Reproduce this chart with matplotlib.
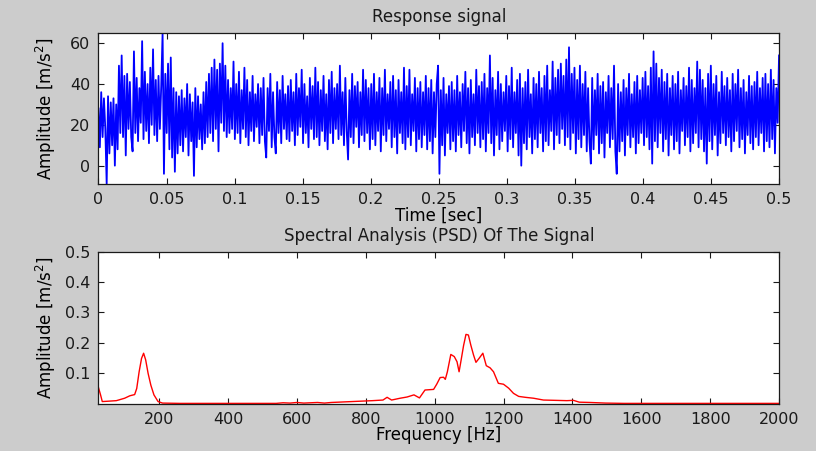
import numpy as np
import matplotlib.pyplot as plt

# acceleration response, 1 ms steps over 0.5 s (m/s^2)
response = [
    28, 9, 36, 14, 33, 18, -9, 34, 6, 31, 10, 33, 0, 30, 8, 49, 16, 54, 14, 44,
    5, 45, 18, 41, 14, 7, 56, 16, 43, 12, 38, 21, 61, 13, 46, 17, 40, 11, 48, 20,
    57, 15, 42, 12, 44, 18, 39, 65, -4, 45, 16, 50, 8, 53, 4, 38, -3, 36, 6, 34,
    10, 37, 7, 33, 14, 40, 5, 35, 12, 31, -5, 38, 9, 34, 13, 30, 8, 36, 11, 41,
    14, 45, 16, 48, 12, 52, 18, 47, 7, 50, 21, 60, 17, 49, 14, 42, 16, 38, 18, 51,
    13, 40, 16, 46, 11, 37, 18, 48, 14, 42, 10, 36, 17, 44, 12, 35, 19, 40, 11, 38,
    15, 43, 12, 4, 38, 17, 45, 9, 36, 14, 6, 41, 16, 37, 11, 44, 18, 35, 13, 39,
    12, 42, 17, 36, 10, 45, 15, 38, 19, 47, 11, 40, 16, 34, 9, 43, 18, 39, 13, 48,
    14, 41, 10, 37, 17, 44, 12, 35, 8, 42, 16, 46, 11, 38, 18, 40, 13, 49, 15, 36,
    10, 43, 17, 3, 37, 14, 45, 11, 39, 19, 41, 9, 36, 15, 47, 12, 42, 16, 38, 8,
    40, 13, 45, 10, 36, 17, 43, 7, 38, 15, 47, 12, 35, 18, 41, 9, 44, 14, 37, 6,
    42, 16, 36, 11, 48, 8, 39, 14, 47, 10, 35, 17, 43, 7, 38, 13, 41, 9, 36, 15,
    44, 8, 38, 12, 42, 6, 36, 14, 40, 49, -4, 37, 10, 43, 5, 35, 16, 39, 8, 41,
    12, 37, 7, 44, 15, 36, 9, 40, 17, 46, 11, 38, 6, 42, 14, 35, 10, 47, 16, 39,
    9, 41, 13, 45, 7, 38, 16, 54, 11, 43, 5, 37, 15, 46, 8, 40, 12, 36, 17, 44,
    7, 39, 13, 48, 9, 36, 16, 42, 5, 45, 0, 38, 11, 41, 8, 47, 14, 35, 6, 43,
    13, 40, 9, 46, 16, 38, 7, 44, 12, 49, 10, 37, 17, 51, 8, 43, 15, 47, 11, 50,
    18, 44, 10, 52, 14, 58, 8, 45, 16, 48, 6, 42, 13, 49, 9, 40, 15, 46, 7, 38,
    12, 1, 43, 8, 37, 15, 45, 6, 39, 11, 41, 4, 36, 16, 44, 9, 38, 13, 49, 7,
    -4, 40, 7, 36, 12, 42, 5, 38, 15, 45, 9, 35, 14, 41, 6, 44, 11, 37, 16, 43,
    10, 46, 14, 39, 8, 48, 1, 56, 12, 50, 9, 43, 16, 47, 7, 41, 13, 45, 5, 38,
    15, 44, 8, 40, 12, 46, 6, 37, 17, 43, 10, 39, 14, 48, 7, 42, 11, 38, 16, 51,
    9, 47, 13, 42, 7, 38, 1, 45, 12, 49, 8, 40, 15, 44, 5, 36, 11, 46, 16, 39,
    10, 43, 14, 37, 7, 45, 12, 40, 17, 47, 9, 38, 13, 42, 6, 36, 15, 44, 11, 39,
    8, 41, 14, 46, 10, 38, 16, 43, 7, 45, 12, 40, 9, 47, 13, 42, 6, 38, 21, 54,
]

# power spectral density of the response
freq = [24, 30, 35, 50, 76, 100, 115, 129, 135, 142,
        149, 155, 161, 168, 176, 185, 197, 210, 260, 350,
        450, 540, 560, 580, 600, 620, 640, 660, 680, 700,
        740, 780, 820, 850, 862, 875, 900, 920, 940, 956,
        972, 997, 1006, 1016, 1026, 1031, 1037, 1047, 1057, 1065,
        1071, 1077, 1084, 1091, 1098, 1105, 1113, 1120, 1129, 1140,
        1150, 1161, 1171, 1185, 1200, 1215, 1229, 1244, 1263, 1287,
        1316, 1350, 1384, 1403, 1420, 1452, 1496, 1550, 1700, 1850,
        2000]
psd = [0.053, 0.029, 0.007, 0.008, 0.010, 0.018, 0.026, 0.030, 0.050, 0.105,
       0.149, 0.166, 0.144, 0.100, 0.061, 0.029, 0.007, 0.002, 0.001, 0.001,
       0.001, 0.001, 0.003, 0.002, 0.004, 0.002, 0.003, 0.004, 0.002, 0.004,
       0.006, 0.008, 0.010, 0.012, 0.021, 0.012, 0.018, 0.022, 0.029, 0.019,
       0.045, 0.047, 0.064, 0.086, 0.087, 0.080, 0.105, 0.162, 0.155, 0.138,
       0.105, 0.144, 0.191, 0.228, 0.226, 0.193, 0.160, 0.136, 0.149, 0.166,
       0.125, 0.118, 0.105, 0.067, 0.064, 0.051, 0.034, 0.024, 0.021, 0.018,
       0.012, 0.011, 0.010, 0.011, 0.005, 0.004, 0.002, 0.001, 0.001, 0.001,
       0.001]

time_ticks = [0, 0.05, 0.1, 0.15, 0.2, 0.25, 0.3, 0.35, 0.4, 0.45, 0.5]
time_ticklabels = ['0', '0.05', '0.1', '0.15', '0.2', '0.25', '0.3', '0.35', '0.4', '0.45', '0.5']
amp_ticks = [0, 20, 40, 60]
freq_ticks = [200, 400, 600, 800, 1000, 1200, 1400, 1600, 1800, 2000]
psd_ticks = [0.1, 0.2, 0.3, 0.4, 0.5]

plt.rcParams['font.family'] = ['DejaVu Sans']
plt.rcParams['text.color'] = '#1a1a1a'
plt.rcParams['xtick.color'] = '#1a1a1a'
plt.rcParams['ytick.color'] = '#1a1a1a'

fig = plt.figure(figsize=(8.16, 4.51), dpi=100, facecolor='#cccccc')
ax1 = fig.add_axes([0.1207, 0.592, 0.834, 0.3348])
ax2 = fig.add_axes([0.1207, 0.1049, 0.834, 0.337])

# ---- time signal ----
t = np.linspace(0, 0.5, len(response))
ax1.plot(t, response, color='#0000ff', linewidth=1.3)
ax1.set_xlim(0, 0.5)
ax1.set_ylim(-9, 65)
ax1.set_xticks(time_ticks)
ax1.set_xticklabels(time_ticklabels)
ax1.set_yticks(amp_ticks)
ax1.set_title('Response signal', fontsize=12, pad=8)
ax1.set_xlabel('Time [sec]', fontsize=12)
ax1.set_ylabel('Amplitude [m/s$^2$]', fontsize=12)
ax1.xaxis.set_label_coords(0.5, -0.15)
ax1.yaxis.set_label_coords(-0.059, 0.5)

# ---- spectrum ----
ax2.plot(freq, psd, color='#ff0000', linewidth=1.0)
ax2.set_xlim(24, 2000)
ax2.set_ylim(0, 0.5)
ax2.set_xticks(freq_ticks)
ax2.set_yticks(psd_ticks)
ax2.set_title('Spectral Analysis (PSD) Of The Signal', fontsize=12, pad=8)
ax2.set_xlabel('Frequency [Hz]', fontsize=12)
ax2.set_ylabel('Amplitude [m/s$^2$]', fontsize=12)
ax2.xaxis.set_label_coords(0.5, -0.15)
ax2.yaxis.set_label_coords(-0.059, 0.5)

for ax in (ax1, ax2):
    ax.set_facecolor('white')
    ax.tick_params(direction='in', top=True, right=True, length=4, width=0.8,
                   labelsize=11.5, pad=6)
    for s in ax.spines.values():
        s.set_linewidth(0.9)
        s.set_color('#1a1a1a')

fig.savefig('out.png', dpi=100, facecolor=fig.get_facecolor())
